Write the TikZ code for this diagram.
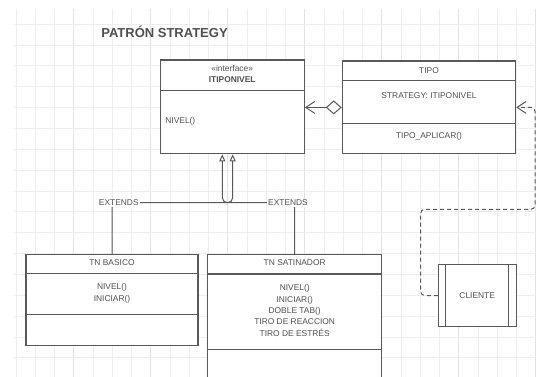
\documentclass[tikz,border=0pt]{standalone}
\usepackage{fontspec}
\setmainfont{Liberation Sans}
\usepackage{tikz}
\usetikzlibrary{arrows.meta,calc,positioning}
\definecolor{linegray}{HTML}{595959}
\definecolor{textgray}{HTML}{505050}
\definecolor{gridgray}{HTML}{EEEEEE}
\definecolor{gridmajor}{HTML}{E3E3E3}
\newcommand{\umlfont}{\fontsize{8.4}{11.4}\selectfont}

\begin{document}
\begin{tikzpicture}[x=1pt,y=-1pt,
    umlbox/.style={draw=linegray,line width=1.1pt,fill=white,inner sep=0pt},
    divider/.style={draw=linegray,line width=1.1pt},
    txt/.style={text=textgray,font=\umlfont,inner sep=0pt,align=center},
    link/.style={draw=linegray,line width=1pt},
    aggr/.style={link,{Diamond[open,fill=white,length=16pt,width=14pt]}-{Straight Barb[length=9pt,width=12pt]}},
    extends/.style={link,rounded corners=5pt,-{Triangle[open,fill=white,length=7pt,width=6pt]}},
    dep/.style={link,dash pattern=on 4pt off 3pt,rounded corners=4pt,-{Straight Barb[length=9pt,width=12pt]}},
    gridline/.style={draw=gridgray,line width=0.6pt}]
  \useasboundingbox[fill=white] (0,0) rectangle (536,377);
  \clip (0,0) rectangle (536,377);
  % background grid
  \foreach \i in {0,...,27}
    \draw[gridline] ({16+19.25*\i},9) -- ({16+19.25*\i},377);
  \foreach \i in {3,7,...,27}
    \draw[gridline,draw=gridmajor] ({16+19.25*\i},9) -- ({16+19.25*\i},377);
  \foreach \k in {0,...,16}
    \draw[gridline] (14,{24+20.86*\k}) -- (536,{24+20.86*\k});

  \node[font=\fontsize{13}{15}\selectfont\bfseries,text=textgray] (title) at (164.5,32.3) {PATRÓN STRATEGY};

  % interface
  \node[umlbox,minimum width=144.3pt,minimum height=93.7pt] (itip) at (232.2,106.9) {};
  \draw[divider] ($(itip.north west)+(0,30.7)$) -- ($(itip.north east)+(0,30.7)$);
  \node[txt] (itipstereo) at ($(itip.north)+(0,9.3)$) {«interface»};
  \node[txt,font=\umlfont\bfseries] (itipname) at ($(itip.north)+(0,20)$) {ITIPONIVEL};
  \node[txt,anchor=west] (itipop) at ($(itip.west)+(5.7,14.8)$) {NIVEL()};

  % context
  \node[umlbox,minimum width=173.4pt,minimum height=92.7pt] (tipo) at (429,107.4) {};
  \draw[divider] ($(tipo.north west)+(0,20)$) -- ($(tipo.north east)+(0,20)$);
  \draw[divider] ($(tipo.north west)+(0,62.7)$) -- ($(tipo.north east)+(0,62.7)$);
  \node[txt] (tiponame) at ($(tipo.north)+(0,9.7)$) {TIPO};
  \node[txt] (tipoattr) at ($(tipo.north)+(0,35)$) {STRATEGY: ITIPONIVEL};
  \node[txt] (tipoop) at ($(tipo.north)+(0,75.7)$) {TIPO\_APLICAR()};
  \draw[aggr] (tipo.west) -- (tipo.west -| itip.east);

  % concrete strategies
  \node[umlbox,minimum width=172pt,minimum height=91.4pt] (basico) at (112,300) {};
  \draw[divider] ($(basico.north west)+(0,19.7)$) -- ($(basico.north east)+(0,19.7)$);
  \draw[divider] ($(basico.north west)+(0,61)$) -- ($(basico.north east)+(0,61)$);
  \node[txt] (basiconame) at ($(basico.north)+(0,8.4)$) {TN BASICO};
  \node[txt] (basicoops) at ($(basico.north)+(0,39.5)$) {NIVEL()\\INICIAR()};

  \node[umlbox,minimum width=174pt,minimum height=140pt,anchor=north] (satin) at (294.7,254.3) {};
  \draw[divider] ($(satin.north west)+(0,19.7)$) -- ($(satin.north east)+(0,19.7)$);
  \draw[divider] ($(satin.north west)+(0,95)$) -- ($(satin.north east)+(0,95)$);
  \node[txt] (satinname) at ($(satin.north)+(0,8.4)$) {TN SATINADOR};
  \node[txt] (satinops) at ($(satin.north)+(0,56.2)$) {NIVEL()\\INICIAR()\\DOBLE TAB()\\TIRO DE REACCION\\TIRO DE ESTRÉS};

  \coordinate (bend1) at (232.7,202.7);
  \coordinate (bend2) at (222.3,202.7);
  \draw[extends] (basico.north) |- (bend1) -- (bend1 |- itip.south);
  \draw[extends] (satin.north) |- (bend2) -- (bend2 |- itip.south);
  \node[txt,fill=white,inner sep=1pt] (ext1) at (118.8,202.7) {EXTENDS};
  \node[txt,fill=white,inner sep=1pt] (ext2) at (288,202.7) {EXTENDS};

  % client
  \node[umlbox,minimum width=77.7pt,minimum height=62.4pt] (cliente) at (477.2,295.5) {};
  \draw[divider] ($(cliente.north west)+(8,0)$) -- ($(cliente.south west)+(8,0)$);
  \draw[divider] ($(cliente.north east)+(-8,0)$) -- ($(cliente.south east)+(-8,0)$);
  \node[txt] (clientename) at (cliente.center) {CLIENTE};
  \coordinate (dep1) at (420.7,209.3);
  \coordinate (dep2) at (535,107.4);
  \draw[dep] (cliente.west) -| (dep1) -| (dep2) -- (tipo.east);
\end{tikzpicture}
\end{document}
